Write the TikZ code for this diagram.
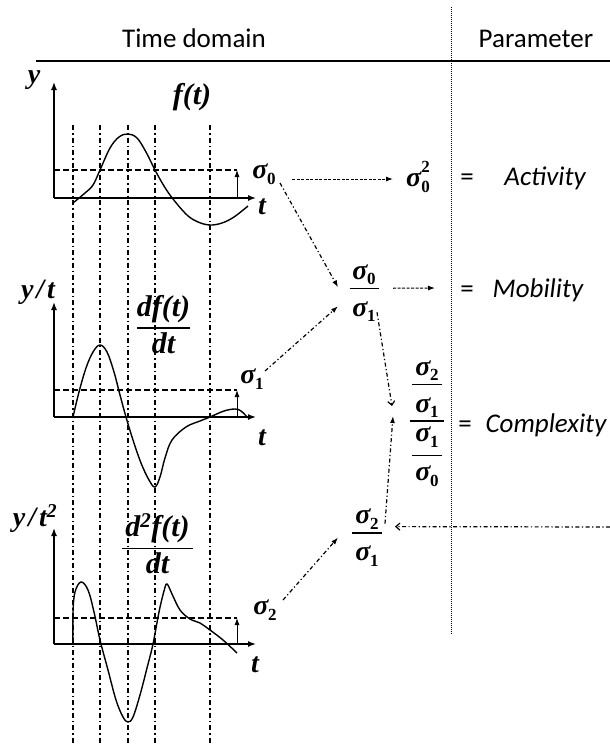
\documentclass[tikz,border=0pt]{standalone}
\usepackage{fontspec}
\setmainfont{Carlito}
\newfontfamily\tnr{Liberation Serif}
\usetikzlibrary{arrows.meta}
\newcommand\mi{\tnr\bfseries\itshape}
\newcommand\subf{\tnr\bfseries\fontsize{17}{17}\selectfont}
\newcommand\sg[1]{{\mi σ}\kern-0.5pt\raisebox{-0.2em}{\subf #1}}
\newcommand\sgstrut{\vrule height 13pt depth 5pt width 0pt}
\newcommand\fbar[1]{\vrule height 1.2pt depth 0pt width #1}
% sigma fraction: numerator, denominator, bar width
\newcommand\sfr[3]{\vbox{\offinterlineskip\halign{\hfil##\hfil\cr
  \sgstrut#1\cr\noalign{\kern3pt}\fbar{#3}\cr\noalign{\kern12.3pt}\sgstrut#2\cr}}}
% complexity double fraction
\newcommand\cpxfr{\vbox{\offinterlineskip\halign{\hfil##\hfil\cr
  \sgstrut\sg{2}\cr\noalign{\kern3.5pt}\fbar{30pt}\cr\noalign{\kern12.3pt}
  \sgstrut\sg{1}\cr\noalign{\kern2.5pt}\fbar{34pt}\cr\noalign{\kern5.3pt}
  \sgstrut\sg{1}\cr\noalign{\kern7.5pt}\fbar{30pt}\cr\noalign{\kern10.3pt}
  \sgstrut\sg{0}\cr}}}
% derivative fraction in plots
\newcommand\dfr[3]{\vbox{\offinterlineskip\halign{\hfil##\hfil\cr
  \vrule height 21pt depth 7pt width 0pt#1\cr\noalign{\kern4pt}
  \vrule height 1.5pt depth 0pt width #3\cr\noalign{\kern3.5pt}
  \vrule height 21pt depth 1pt width 0pt#2\cr}}}
\begin{document}
\begin{tikzpicture}[x=1pt,y=-1pt,
  txt/.style={font=\fontsize{27}{30}\selectfont, inner sep=0pt},
  itxt/.style={font=\fontsize{27}{30}\selectfont\itshape, inner sep=0pt},
  lab/.style={font=\fontsize{30}{34}\selectfont\mi, inner sep=0pt},
  ylab/.style={font=\fontsize{28}{32}\selectfont\mi, inner sep=0pt},
  tlab/.style={font=\fontsize{28}{32}\selectfont\mi, inner sep=0pt},
  sym/.style={font=\fontsize{28}{32}\selectfont, inner sep=0pt},
  axis/.style={line width=1.4pt, -{Latex[length=8pt,width=6pt]}},
  curve/.style={line width=1.4pt, smooth, tension=0.6},
  level/.style={line width=1.4pt, dash pattern=on 6pt off 3pt},
  guide/.style={line width=1.1pt, dash pattern=on 5pt off 3pt on 1.5pt off 3pt},
  updim/.style={line width=0.9pt, -{Latex[length=7pt,width=5pt]}},
  flowdash/.style={line width=1pt, dash pattern=on 3pt off 1.5pt, -{Latex[length=7pt,width=5pt]}},
  flowdd/.style={line width=1.2pt, dash pattern=on 4pt off 2.5pt on 1.2pt off 2.5pt, -{Latex[length=7pt,width=5pt]}},
  flowopen/.style={line width=1.2pt, dash pattern=on 4pt off 2.5pt on 1.2pt off 2.5pt, -{Straight Barb[length=4pt,width=7pt]}},
]
\fill[white] (0,0) rectangle (610,744);
\useasboundingbox (0,0) rectangle (610,744);

% header
\node[txt, anchor=base] (td) at (194,47) {Time domain};
\node[txt, anchor=base] (par) at (536,47) {Parameter};
\draw[line width=1.8pt] (36,61) -- (610,61);
\draw[line width=1pt, dash pattern=on 1pt off 1pt] (451,7) -- (451,635);

% guide lines
\foreach \x in {73,100,128,155,210}
  \draw[guide] (\x,125) -- (\x,744);

% plot 1
\draw[axis] (54,198) -- (54,82);
\draw[axis] (54,198) -- (256,198);
\draw[level] (54,170) -- (237,170);
\draw[updim] (237,198) -- (237,170);
\draw[curve] plot coordinates {(73,203) (85,193) (93,185) (100,170) (110,148) (119,137) (128,134) (137,138) (146,152) (155,170) (164,186) (173,199) (187,215) (198,222) (210,225) (222,223) (234,217) (248,206)};
\node[ylab] (y1) at (34,80) {y};
\node[lab] (f1) at (192,97) {f(t)};
\node[tlab] (t1) at (262,207) {t};
\node[sym] (s0) at (264,174) {\sg{0}};

% plot 2
\draw[axis] (54,417) -- (54,302);
\draw[axis] (54,417) -- (256,417);
\draw[level] (54,390) -- (237,390);
\draw[updim] (237,417) -- (237,390);
\draw[curve] plot coordinates {(73,417) (79,392) (86,368) (93,352) (100,345) (107,352) (114,372) (120,395) (126,417) (133,440) (141,463) (149,480) (155,487) (160,477) (165,458) (172,440) (186,427) (200,421) (210,417) (224,411) (235,409) (241,411) (248,418)};
\node[ylab] (y2) at (38,292) {y\kern3pt/\kern3pt t};
\node[lab] (d1) at (163.5,324.5) {\dfr{df(t)}{dt}{53pt}};
\node[tlab] (t2) at (262,438) {t};
\node[sym] (s1) at (252,379) {\sg{1}};

% plot 3
\draw[axis] (54,644) -- (54,528);
\draw[axis] (54,644) -- (256,644);
\draw[level] (54,618) -- (237,618);
\draw[updim] (237,644) -- (237,618);
\draw[curve] plot coordinates {(73,644) (73,612) (75,592) (81,582) (88,590) (94,612) (100,640) (108,670) (116,700) (123,717) (128,722) (133,717) (140,695) (147,668) (153,644) (159,612) (164,591) (167,584) (172,594) (180,610) (190,619) (200,623) (210,630) (223,640) (237,653)};
\node[ylab] (y3) at (35,519) {y\kern3pt/\kern3pt t\textsuperscript{2}};
\node[lab] (d2) at (157.5,544.5) {\dfr{d\textsuperscript{2}f(t)}{dt}{71pt}};
\node[tlab] (t3) at (255,665) {t};
\node[sym] (s2) at (265,610) {\sg{2}};

% parameter column
\node[sym] (s0sq) at (418,177) {{\mi σ}\rlap{\raisebox{-0.2em}{\subf 0}}\raisebox{0.5em}{\subf 2}};
\node[txt, anchor=base] (eq1) at (467,185) {=};
\node[itxt, anchor=base] (act) at (545,185) {Activity};

\node[sym] (f01) at (364,293.25) {\sfr{\sg{0}}{\sg{1}}{29pt}};
\node[txt, anchor=base] (eq2) at (467,297) {=};
\node[itxt, anchor=base] (mob) at (538,297) {Mobility};

\node[sym] (fx) at (427,423.5) {\cpxfr};
\node[txt, anchor=base] (eq3) at (465,432) {=};
\node[itxt, anchor=base] (cpx) at (546,432) {Complexity};

\node[sym] (f21) at (367,537.6) {\sfr{\sg{2}}{\sg{1}}{30pt}};
\coordinate (redge) at (610,527);

% connectors
\draw[flowdash] ([shift={(28,5)}]s0.center) -- ([shift={(-25,2)}]s0sq.center);
\draw[flowdd] ([shift={(16,9)}]s0.center) -- ([shift={(-26,-6)}]f01.center);
\draw[flowdd] ([shift={(13,-8)}]s1.center) -- ([shift={(-26,13)}]f01.center);
\draw[flowopen] ([shift={(13,19)}]f01.center) -- ([shift={(-35,-17.5)}]fx.center);
\draw[flowdash] ([shift={(29,-5)}]f01.center) -- ([shift={(-32,-9)}]eq2.base);
\draw[flowdd] ([shift={(18,-10)}]s2.center) -- ([shift={(-29,0)}]f21.center);
\draw[flowdd] ([shift={(18,-14)}]f21.center) -- ([shift={(-34,-7.5)}]fx.center);
\draw[flowopen] (redge) -- ([shift={(28,-11)}]f21.center);
\end{tikzpicture}
\end{document}
